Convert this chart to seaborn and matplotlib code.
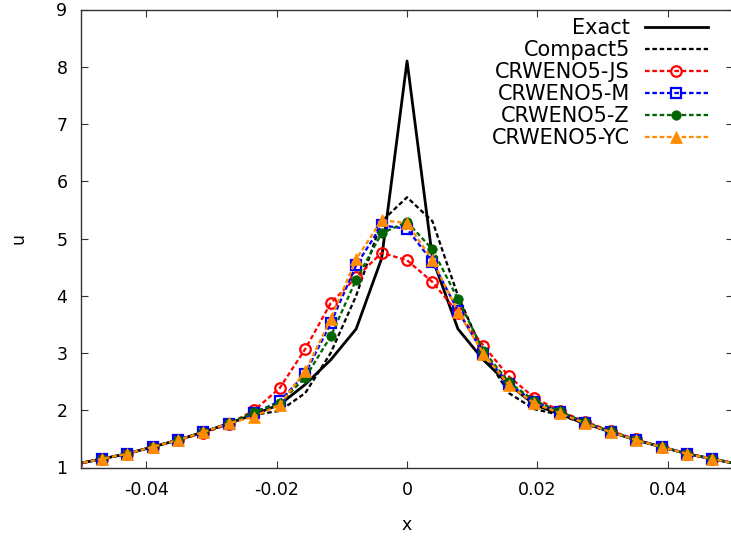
import numpy as np
import matplotlib
matplotlib.use("Agg")
import matplotlib.pyplot as plt
import seaborn as sns

# Grid: x_i = i / 256, i = -13 .. 13
grid_index = list(range(-13, 14))
x = [i / 256 for i in grid_index]

exact = [1.06, 1.15, 1.24, 1.36, 1.48, 1.62, 1.77, 1.93, 2.10, 2.45, 2.88, 3.42, 4.65,
         8.10,
         4.65, 3.42, 2.88, 2.45, 2.10, 1.93, 1.77, 1.62, 1.48, 1.36, 1.24, 1.15, 1.06]
compact5 = [1.06, 1.15, 1.24, 1.36, 1.48, 1.62, 1.76, 1.92, 1.99, 2.30, 3.00, 4.00, 5.30,
            5.72,
            5.30, 4.00, 3.00, 2.30, 2.02, 1.92, 1.76, 1.62, 1.48, 1.36, 1.24, 1.15, 1.06]
crweno_js = [1.06, 1.15, 1.24, 1.36, 1.48, 1.60, 1.76, 2.00, 2.39, 3.07, 3.87, 4.32, 4.75,
             4.62,
             4.24, 3.70, 3.13, 2.59, 2.22, 1.99, 1.80, 1.64, 1.49, 1.36, 1.24, 1.15, 1.06]
crweno_m = [1.06, 1.15, 1.24, 1.36, 1.48, 1.62, 1.76, 1.95, 2.16, 2.64, 3.52, 4.53, 5.23,
            5.17,
            4.59, 3.74, 2.99, 2.46, 2.15, 1.97, 1.78, 1.62, 1.48, 1.36, 1.24, 1.15, 1.06]
crweno_z = [1.06, 1.15, 1.24, 1.36, 1.48, 1.62, 1.77, 1.97, 2.13, 2.57, 3.29, 4.28, 5.09,
            5.29,
            4.81, 3.94, 3.04, 2.49, 2.17, 1.98, 1.79, 1.63, 1.48, 1.36, 1.24, 1.15, 1.06]
crweno_yc = [1.06, 1.15, 1.24, 1.36, 1.48, 1.62, 1.77, 1.89, 2.10, 2.68, 3.59, 4.64, 5.32,
             5.27,
             4.62, 3.72, 2.99, 2.44, 2.12, 1.95, 1.77, 1.62, 1.48, 1.36, 1.24, 1.15, 1.06]

x_ticks = [-0.04, -0.02, 0, 0.02, 0.04]
x_tick_labels = ["-0.04", "-0.02", "0", "0.02", "0.04"]
y_ticks = [1, 2, 3, 4, 5, 6, 7, 8, 9]

plt.rcParams["font.family"] = ["DejaVu Sans"]

fig = plt.figure(figsize=(7.31, 5.37), dpi=100)
ax = fig.add_axes([81.3 / 731, 69.5 / 537, 651.5 / 731, 458 / 537])

dash = (0, (2.0, 1.2))
series = [
    ("Exact", exact, dict(color="black", lw=2.0, linestyle="-")),
    ("Compact5", compact5, dict(color="black", lw=1.65, linestyle=dash)),
    ("CRWENO5-JS", crweno_js, dict(color="#ff0000", lw=1.65, linestyle=dash, marker="o",
                                    markersize=7.6, markerfacecolor="none",
                                    markeredgecolor="#ff0000", markeredgewidth=1.6)),
    ("CRWENO5-M", crweno_m, dict(color="#0000ff", lw=1.65, linestyle=dash, marker="s",
                                  markersize=7.3, markerfacecolor="none",
                                  markeredgecolor="#0000ff", markeredgewidth=1.6)),
    ("CRWENO5-Z", crweno_z, dict(color="#006400", lw=1.65, linestyle=dash, marker="o",
                                  markersize=6.8, markerfacecolor="#006400",
                                  markeredgecolor="#006400", markeredgewidth=0.5)),
    ("CRWENO5-YC", crweno_yc, dict(color="#ff8c00", lw=1.65, linestyle=dash, marker="^",
                                    markersize=8.0, markerfacecolor="#ff8c00",
                                    markeredgecolor="#ff8c00", markeredgewidth=0.5)),
]

for name, values, style in series:
    sns.lineplot(x=x, y=values, ax=ax, label=name, sort=False, estimator=None, **style)

ax.set_xlim(-0.05, 0.05)
ax.set_ylim(1, 9)
ax.set_xticks(x_ticks)
ax.set_xticklabels(x_tick_labels)
ax.set_yticks(y_ticks)

edge = "#333333"
for sp in ax.spines.values():
    sp.set_color(edge)
    sp.set_linewidth(1.0)
ax.tick_params(direction="in", length=5.2, width=0.8, color=edge, labelsize=12.5,
               top=True, right=True, pad=10)

ax.set_xlabel("x", fontsize=12.5, labelpad=12)
ax.set_ylabel("u", fontsize=12.5, labelpad=21)

leg = ax.legend(loc="upper right", bbox_to_anchor=(708 / 731, 1 - 18 / 537),
                bbox_transform=fig.transFigure, frameon=False, markerfirst=False,
                fontsize=15, handlelength=3.03, handletextpad=0.72, labelspacing=0.1,
                borderpad=0, borderaxespad=0, numpoints=1)

fig.savefig("out.png", dpi=100)
